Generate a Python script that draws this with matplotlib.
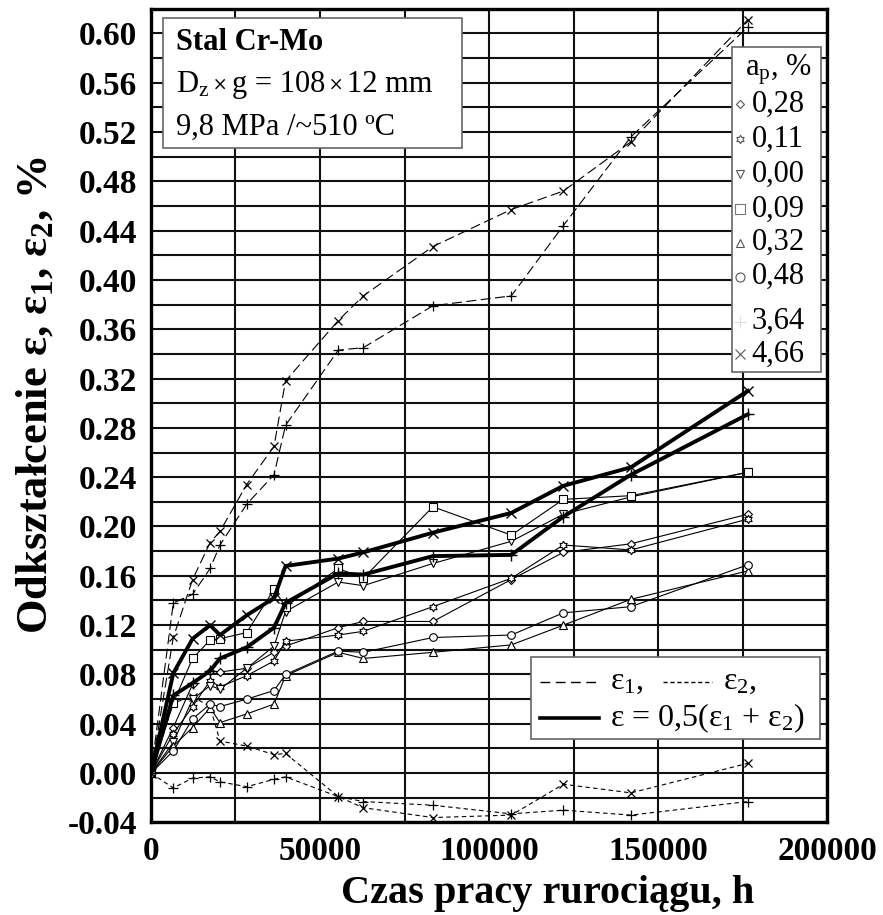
import numpy as np
import matplotlib.pyplot as plt
from matplotlib.path import Path
from matplotlib.patches import Rectangle
from matplotlib.lines import Line2D

plt.rcParams['font.family'] = ['Liberation Serif', 'DejaVu Serif']
plt.rcParams['mathtext.fontset'] = 'custom'
plt.rcParams['mathtext.rm'] = 'Liberation Serif'
plt.rcParams['mathtext.it'] = 'Liberation Serif:italic'
plt.rcParams['mathtext.bf'] = 'Liberation Serif:bold'

# czas pracy rurociagu, h
t = [0, 6600, 12300, 17500, 20400, 28300, 36400, 39800, 55400, 62800,
     83400, 106600, 122000, 142000, 176600]

# odksztalcenie eps dla malych a_p, %
eps_028 = [0, 0.037, 0.072, 0.083, 0.082, 0.085, 0.098, 0.103, 0.118, 0.123, 0.123, 0.157, 0.179, 0.186, 0.210]
eps_011 = [0, 0.032, 0.054, 0.075, 0.070, 0.079, 0.091, 0.107, 0.112, 0.115, 0.135, 0.158, 0.185, 0.181, 0.206]
eps_000 = [0, 0.025, 0.060, 0.071, 0.068, 0.085, 0.103, 0.131, 0.155, 0.152, 0.170, 0.188, 0.210, 0.224, 0.244]
eps_009 = [0, 0.057, 0.093, 0.108, 0.109, 0.114, 0.149, 0.135, 0.166, 0.158, 0.216, 0.193, 0.222, 0.225, 0.244]
eps_032 = [0, 0.022, 0.037, 0.053, 0.041, 0.048, 0.056, 0.079, 0.098, 0.093, 0.098, 0.104, 0.120, 0.141, 0.164]
eps_048 = [0, 0.018, 0.044, 0.056, 0.054, 0.060, 0.067, 0.080, 0.099, 0.098, 0.110, 0.112, 0.130, 0.135, 0.169]

# a_p = 3,64 % i 4,66 %: eps1, eps2 i eps
eps1_364 = [0, 0.138, 0.145, 0.166, 0.185, 0.218, 0.242, 0.282, 0.343, 0.345, 0.379, 0.387, 0.444, 0.516, 0.605]
eps1_466 = [0, 0.110, 0.157, 0.187, 0.196, 0.234, 0.265, 0.318, 0.367, 0.387, 0.427, 0.457, 0.472, 0.512, 0.611]
eps2_364 = [0, -0.012, -0.004, -0.003, -0.007, -0.011, -0.005, -0.003, -0.019, -0.023, -0.026, -0.033, -0.030, -0.034, -0.023]
eps2_466 = [0, 0.057, 0.062, 0.054, 0.026, 0.022, 0.015, 0.016, -0.019, -0.028, -0.036, -0.034, -0.009, -0.016, 0.008]
eps_364 = [0, 0.063, 0.073, 0.083, 0.093, 0.102, 0.118, 0.138, 0.162, 0.161, 0.176, 0.177, 0.208, 0.242, 0.291]
eps_466 = [0, 0.081, 0.109, 0.120, 0.112, 0.128, 0.142, 0.168, 0.174, 0.179, 0.195, 0.211, 0.233, 0.248, 0.310]

ap_labels = ['0,28', '0,11', '0,00', '0,09', '0,32', '0,48', '3,64', '4,66']

# gwiazda szescioramienna
ang = np.pi / 2 + np.arange(12) * np.pi / 6
rad = np.where(np.arange(12) % 2 == 0, 1.0, 0.58)
verts = np.column_stack([rad * np.cos(ang), rad * np.sin(ang)])
star6 = Path(np.vstack([verts, verts[:1]]), closed=True)

fig = plt.figure(figsize=(8.83, 9.15), dpi=100)
ax = fig.add_axes([0.1710, 0.1011, 0.7656, 0.8896])

thin = dict(color='black', lw=0.8, mfc='white', mec='black', mew=0.8, zorder=4)
ax.plot(t, eps_028, marker='D', ms=4.5, **thin)
ax.plot(t, eps_011, marker=star6, ms=6, **thin)
ax.plot(t, eps_000, marker='v', ms=5.5, **thin)
ax.plot(t, eps_009, marker='s', ms=5.5, **thin)
ax.plot(t, eps_032, marker='^', ms=5.5, **thin)
ax.plot(t, eps_048, marker='o', ms=5.5, **thin)

long_dash = (0, (9, 4))
short_dash = (0, (4, 3))
ax.plot(t, eps1_364, ls=long_dash, lw=0.8, color='black', marker='+', ms=7, mew=0.9, zorder=3)
ax.plot(t, eps1_466, ls=long_dash, lw=0.8, color='black', marker='x', ms=6, mew=0.9, zorder=3)
ax.plot(t, eps2_364, ls=short_dash, lw=0.8, color='black', marker='+', ms=7, mew=0.9, zorder=3)
ax.plot(t, eps2_466, ls=short_dash, lw=0.8, color='black', marker='x', ms=6, mew=0.9, zorder=3)
ax.plot(t, eps_364, color='black', lw=2.8, marker='+', ms=8, mew=1.0, zorder=5)
ax.plot(t, eps_466, color='black', lw=2.8, marker='x', ms=7, mew=1.0, zorder=5)

ax.set_xlim(0, 200000)
ax.set_ylim(-0.04, 0.62)
ax.set_xticks(np.arange(0, 200001, 50000))
ax.set_xticks(np.arange(0, 200001, 25000), minor=True)
ax.set_yticks(np.arange(-0.04, 0.601, 0.04))
ax.set_yticks(np.arange(-0.04, 0.621, 0.02), minor=True)
ax.set_yticklabels(['%.2f' % v for v in np.arange(-0.04, 0.601, 0.04)])
ax.grid(True, which='both', color='#111111', lw=1.5, zorder=0)
ax.set_axisbelow(True)
ax.tick_params(which='both', length=0, labelsize=24, pad=10)
for lab in ax.get_xticklabels() + ax.get_yticklabels():
    lab.set_fontweight('bold')
for sp in ax.spines.values():
    sp.set_linewidth(2.4)

fig.text(0.620, 0.024, 'Czas pracy rurociągu, h', fontsize=29, fontweight='bold',
         ha='center', va='center')
fig.text(0.040, 0.568, r'Odkształcenie ε, ε$_\mathbf{1}$, ε$_\mathbf{2}$, %', fontsize=32,
         fontweight='bold', rotation=90, ha='center', va='center')

# opis probki
ax.add_patch(Rectangle((0.0178, 0.8286), 0.4422, 0.1597, transform=ax.transAxes,
                       facecolor='white', edgecolor='#666666', lw=1.2, zorder=6))
ax.text(0.037, 0.9582, 'Stal Cr-Mo', transform=ax.transAxes, fontsize=22,
        fontweight='bold', va='center', zorder=7)
dim = ax.text(0.037, 0.9066, r'D$_\mathregular{z}$', transform=ax.transAxes,
              fontsize=22, va='center', zorder=7)
for piece, size in [('\u2009×\u2009', 13), ('g = 108', 22), ('\u2009×\u2009', 13), ('12 mm', 22)]:
    dim = ax.annotate(piece, xy=(1, 0.5), xycoords=dim, fontsize=size,
                      family=['DejaVu Serif'] if size < 20 else None,
                      va='center', ha='left', zorder=7, annotation_clip=False)
ax.text(0.037, 0.8538, '9,8 MPa /~510 ºC', transform=ax.transAxes, fontsize=22,
        va='center', zorder=7)

# legenda a_p
ax.add_patch(Rectangle((0.859, 0.5535), 0.1317, 0.3995, transform=ax.transAxes,
                       facecolor='white', edgecolor='#666666', lw=1.2, zorder=6))
ax.text(0.9275, 0.9245, r'a$_\mathregular{p}$, %', transform=ax.transAxes, fontsize=22,
        ha='center', va='center', zorder=7)
leg_y = [0.8826, 0.8393, 0.7967, 0.7533, 0.7123, 0.6705, 0.6152, 0.5756]
leg_m = [('D', 4.5, '#555555'), (star6, 6, '#555555'), ('v', 5.5, '#555555'),
         ('s', 6.5, '#777777'), ('^', 5.5, '#555555'), ('o', 6.5, '#555555'),
         ('+', 8, '#dddddd'), ('x', 7, '#555555')]
for y, (m, s, c), lab in zip(leg_y, leg_m, ap_labels):
    ax.plot([0.8713], [y], transform=ax.transAxes, marker=m, ms=s, mfc='white',
            mec=c, mew=0.8, ls='none', zorder=7, clip_on=False)
    ax.text(0.8886, y, lab, transform=ax.transAxes, fontsize=22, va='center', zorder=7)

# legenda eps
ax.add_patch(Rectangle((0.562, 0.1022), 0.428, 0.1007, transform=ax.transAxes,
                       facecolor='white', edgecolor='#666666', lw=1.2, zorder=6))
ax.add_line(Line2D([0.5754, 0.6627], [0.1726, 0.1726], transform=ax.transAxes,
                   color='black', lw=1.0, ls=(0, (7, 4)), zorder=7))
ax.text(0.679, 0.1726, r'ε$_\mathregular{1}$,', transform=ax.transAxes, fontsize=23,
        va='center', zorder=7)
ax.add_line(Line2D([0.757, 0.830], [0.1726, 0.1726], transform=ax.transAxes,
                   color='black', lw=1.0, ls=(0, (3, 2)), zorder=7))
ax.text(0.846, 0.1726, r'ε$_\mathregular{2}$,', transform=ax.transAxes, fontsize=23,
        va='center', zorder=7)
ax.add_line(Line2D([0.5754, 0.6627], [0.1284, 0.1284], transform=ax.transAxes,
                   color='black', lw=2.6, zorder=7))
ax.text(0.679, 0.1284, r'ε = 0,5(ε$_\mathregular{1}$ + ε$_\mathregular{2}$)',
        transform=ax.transAxes, fontsize=23, va='center', zorder=7)

fig.savefig('out.png', dpi=100)
